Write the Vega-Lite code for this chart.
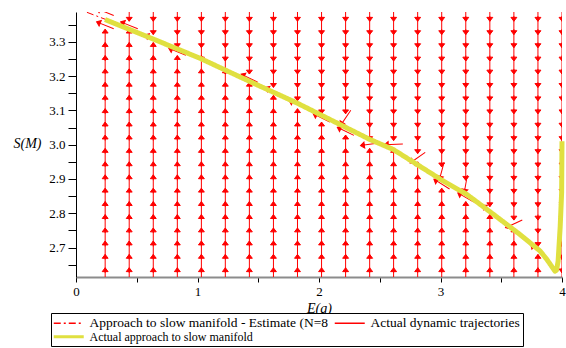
{
"$schema": "https://vega.github.io/schema/vega-lite/v6.json",
"width": 486,
"height": 265,
"autosize": {"type": "none"},
"padding": {"left": 76, "top": 12, "right": 4, "bottom": 71},
"background": "white",
"config": {"view": {"stroke": null}, "legend": {"labelFont": "Liberation Serif"}},
"datasets": {
"field": [
{"E":0.24,"S":3.387,"a":292},{"E":0.24,"S":3.348,"a":292},{"E":0.24,"S":3.31,"a":0},{"E":0.24,"S":3.271,"a":0},{"E":0.24,"S":3.233,"a":0},{"E":0.24,"S":3.194,"a":0},{"E":0.24,"S":3.155,"a":0},{"E":0.24,"S":3.117,"a":0},{"E":0.24,"S":3.078,"a":0},{"E":0.24,"S":3.039,"a":0},{"E":0.24,"S":3.001,"a":0},{"E":0.24,"S":2.962,"a":0},{"E":0.24,"S":2.923,"a":0},{"E":0.24,"S":2.885,"a":0},{"E":0.24,"S":2.846,"a":0},{"E":0.24,"S":2.807,"a":0},{"E":0.24,"S":2.769,"a":0},{"E":0.24,"S":2.73,"a":0},{"E":0.24,"S":2.692,"a":0},{"E":0.24,"S":2.653,"a":0},{"E":0.24,"S":2.614,"a":0},
{"E":0.438,"S":3.387,"a":180},{"E":0.438,"S":3.348,"a":292},{"E":0.438,"S":3.31,"a":0},{"E":0.438,"S":3.271,"a":0},{"E":0.438,"S":3.233,"a":0},{"E":0.438,"S":3.194,"a":0},{"E":0.438,"S":3.155,"a":0},{"E":0.438,"S":3.117,"a":0},{"E":0.438,"S":3.078,"a":0},{"E":0.438,"S":3.039,"a":0},{"E":0.438,"S":3.001,"a":0},{"E":0.438,"S":2.962,"a":0},{"E":0.438,"S":2.923,"a":0},{"E":0.438,"S":2.885,"a":0},{"E":0.438,"S":2.846,"a":0},{"E":0.438,"S":2.807,"a":0},{"E":0.438,"S":2.769,"a":0},{"E":0.438,"S":2.73,"a":0},{"E":0.438,"S":2.692,"a":0},{"E":0.438,"S":2.653,"a":0},{"E":0.438,"S":2.614,"a":0},
{"E":0.636,"S":3.387,"a":180},{"E":0.636,"S":3.348,"a":180},{"E":0.636,"S":3.31,"a":292},{"E":0.636,"S":3.271,"a":0},{"E":0.636,"S":3.233,"a":0},{"E":0.636,"S":3.194,"a":0},{"E":0.636,"S":3.155,"a":0},{"E":0.636,"S":3.117,"a":0},{"E":0.636,"S":3.078,"a":0},{"E":0.636,"S":3.039,"a":0},{"E":0.636,"S":3.001,"a":0},{"E":0.636,"S":2.962,"a":0},{"E":0.636,"S":2.923,"a":0},{"E":0.636,"S":2.885,"a":0},{"E":0.636,"S":2.846,"a":0},{"E":0.636,"S":2.807,"a":0},{"E":0.636,"S":2.769,"a":0},{"E":0.636,"S":2.73,"a":0},{"E":0.636,"S":2.692,"a":0},{"E":0.636,"S":2.653,"a":0},{"E":0.636,"S":2.614,"a":0},
{"E":0.834,"S":3.387,"a":180},{"E":0.834,"S":3.348,"a":180},{"E":0.834,"S":3.31,"a":180},{"E":0.834,"S":3.271,"a":292},{"E":0.834,"S":3.233,"a":0},{"E":0.834,"S":3.194,"a":0},{"E":0.834,"S":3.155,"a":0},{"E":0.834,"S":3.117,"a":0},{"E":0.834,"S":3.078,"a":0},{"E":0.834,"S":3.039,"a":0},{"E":0.834,"S":3.001,"a":0},{"E":0.834,"S":2.962,"a":0},{"E":0.834,"S":2.923,"a":0},{"E":0.834,"S":2.885,"a":0},{"E":0.834,"S":2.846,"a":0},{"E":0.834,"S":2.807,"a":0},{"E":0.834,"S":2.769,"a":0},{"E":0.834,"S":2.73,"a":0},{"E":0.834,"S":2.692,"a":0},{"E":0.834,"S":2.653,"a":0},{"E":0.834,"S":2.614,"a":0},
{"E":1.032,"S":3.387,"a":180},{"E":1.032,"S":3.348,"a":180},{"E":1.032,"S":3.31,"a":180},{"E":1.032,"S":3.271,"a":180},{"E":1.032,"S":3.233,"a":0},{"E":1.032,"S":3.194,"a":0},{"E":1.032,"S":3.155,"a":0},{"E":1.032,"S":3.117,"a":0},{"E":1.032,"S":3.078,"a":0},{"E":1.032,"S":3.039,"a":0},{"E":1.032,"S":3.001,"a":0},{"E":1.032,"S":2.962,"a":0},{"E":1.032,"S":2.923,"a":0},{"E":1.032,"S":2.885,"a":0},{"E":1.032,"S":2.846,"a":0},{"E":1.032,"S":2.807,"a":0},{"E":1.032,"S":2.769,"a":0},{"E":1.032,"S":2.73,"a":0},{"E":1.032,"S":2.692,"a":0},{"E":1.032,"S":2.653,"a":0},{"E":1.032,"S":2.614,"a":0},
{"E":1.229,"S":3.387,"a":180},{"E":1.229,"S":3.348,"a":180},{"E":1.229,"S":3.31,"a":180},{"E":1.229,"S":3.271,"a":180},{"E":1.229,"S":3.233,"a":180},{"E":1.229,"S":3.194,"a":0},{"E":1.229,"S":3.155,"a":0},{"E":1.229,"S":3.117,"a":0},{"E":1.229,"S":3.078,"a":0},{"E":1.229,"S":3.039,"a":0},{"E":1.229,"S":3.001,"a":0},{"E":1.229,"S":2.962,"a":0},{"E":1.229,"S":2.923,"a":0},{"E":1.229,"S":2.885,"a":0},{"E":1.229,"S":2.846,"a":0},{"E":1.229,"S":2.807,"a":0},{"E":1.229,"S":2.769,"a":0},{"E":1.229,"S":2.73,"a":0},{"E":1.229,"S":2.692,"a":0},{"E":1.229,"S":2.653,"a":0},{"E":1.229,"S":2.614,"a":0},
{"E":1.427,"S":3.387,"a":180},{"E":1.427,"S":3.348,"a":180},{"E":1.427,"S":3.31,"a":180},{"E":1.427,"S":3.271,"a":180},{"E":1.427,"S":3.233,"a":180},{"E":1.427,"S":3.194,"a":296},{"E":1.427,"S":3.155,"a":0},{"E":1.427,"S":3.117,"a":0},{"E":1.427,"S":3.078,"a":0},{"E":1.427,"S":3.039,"a":0},{"E":1.427,"S":3.001,"a":0},{"E":1.427,"S":2.962,"a":0},{"E":1.427,"S":2.923,"a":0},{"E":1.427,"S":2.885,"a":0},{"E":1.427,"S":2.846,"a":0},{"E":1.427,"S":2.807,"a":0},{"E":1.427,"S":2.769,"a":0},{"E":1.427,"S":2.73,"a":0},{"E":1.427,"S":2.692,"a":0},{"E":1.427,"S":2.653,"a":0},{"E":1.427,"S":2.614,"a":0},
{"E":1.625,"S":3.387,"a":180},{"E":1.625,"S":3.348,"a":180},{"E":1.625,"S":3.31,"a":180},{"E":1.625,"S":3.271,"a":180},{"E":1.625,"S":3.233,"a":180},{"E":1.625,"S":3.194,"a":180},{"E":1.625,"S":3.155,"a":296},{"E":1.625,"S":3.117,"a":0},{"E":1.625,"S":3.078,"a":0},{"E":1.625,"S":3.039,"a":0},{"E":1.625,"S":3.001,"a":0},{"E":1.625,"S":2.962,"a":0},{"E":1.625,"S":2.923,"a":0},{"E":1.625,"S":2.885,"a":0},{"E":1.625,"S":2.846,"a":0},{"E":1.625,"S":2.807,"a":0},{"E":1.625,"S":2.769,"a":0},{"E":1.625,"S":2.73,"a":0},{"E":1.625,"S":2.692,"a":0},{"E":1.625,"S":2.653,"a":0},{"E":1.625,"S":2.614,"a":0},
{"E":1.823,"S":3.387,"a":180},{"E":1.823,"S":3.348,"a":180},{"E":1.823,"S":3.31,"a":180},{"E":1.823,"S":3.271,"a":180},{"E":1.823,"S":3.233,"a":180},{"E":1.823,"S":3.194,"a":180},{"E":1.823,"S":3.155,"a":180},{"E":1.823,"S":3.117,"a":296},{"E":1.823,"S":3.078,"a":0},{"E":1.823,"S":3.039,"a":0},{"E":1.823,"S":3.001,"a":0},{"E":1.823,"S":2.962,"a":0},{"E":1.823,"S":2.923,"a":0},{"E":1.823,"S":2.885,"a":0},{"E":1.823,"S":2.846,"a":0},{"E":1.823,"S":2.807,"a":0},{"E":1.823,"S":2.769,"a":0},{"E":1.823,"S":2.73,"a":0},{"E":1.823,"S":2.692,"a":0},{"E":1.823,"S":2.653,"a":0},{"E":1.823,"S":2.614,"a":0},
{"E":2.021,"S":3.387,"a":180},{"E":2.021,"S":3.348,"a":180},{"E":2.021,"S":3.31,"a":180},{"E":2.021,"S":3.271,"a":180},{"E":2.021,"S":3.233,"a":180},{"E":2.021,"S":3.194,"a":180},{"E":2.021,"S":3.155,"a":180},{"E":2.021,"S":3.117,"a":180},{"E":2.021,"S":3.078,"a":296},{"E":2.021,"S":3.039,"a":0},{"E":2.021,"S":3.001,"a":0},{"E":2.021,"S":2.962,"a":0},{"E":2.021,"S":2.923,"a":0},{"E":2.021,"S":2.885,"a":0},{"E":2.021,"S":2.846,"a":0},{"E":2.021,"S":2.807,"a":0},{"E":2.021,"S":2.769,"a":0},{"E":2.021,"S":2.73,"a":0},{"E":2.021,"S":2.692,"a":0},{"E":2.021,"S":2.653,"a":0},{"E":2.021,"S":2.614,"a":0},
{"E":2.219,"S":3.387,"a":180},{"E":2.219,"S":3.348,"a":180},{"E":2.219,"S":3.31,"a":180},{"E":2.219,"S":3.271,"a":180},{"E":2.219,"S":3.233,"a":180},{"E":2.219,"S":3.194,"a":180},{"E":2.219,"S":3.155,"a":180},{"E":2.219,"S":3.117,"a":180},{"E":2.219,"S":3.078,"a":214},{"E":2.219,"S":3.039,"a":296},{"E":2.219,"S":3.001,"a":0},{"E":2.219,"S":2.962,"a":0},{"E":2.219,"S":2.923,"a":0},{"E":2.219,"S":2.885,"a":0},{"E":2.219,"S":2.846,"a":0},{"E":2.219,"S":2.807,"a":0},{"E":2.219,"S":2.769,"a":0},{"E":2.219,"S":2.73,"a":0},{"E":2.219,"S":2.692,"a":0},{"E":2.219,"S":2.653,"a":0},{"E":2.219,"S":2.614,"a":0},
{"E":2.417,"S":3.387,"a":180},{"E":2.417,"S":3.348,"a":180},{"E":2.417,"S":3.31,"a":180},{"E":2.417,"S":3.271,"a":180},{"E":2.417,"S":3.233,"a":180},{"E":2.417,"S":3.194,"a":180},{"E":2.417,"S":3.155,"a":180},{"E":2.417,"S":3.117,"a":180},{"E":2.417,"S":3.078,"a":180},{"E":2.417,"S":3.039,"a":180},{"E":2.417,"S":3.001,"a":262},{"E":2.417,"S":2.962,"a":0},{"E":2.417,"S":2.923,"a":0},{"E":2.417,"S":2.885,"a":0},{"E":2.417,"S":2.846,"a":0},{"E":2.417,"S":2.807,"a":0},{"E":2.417,"S":2.769,"a":0},{"E":2.417,"S":2.73,"a":0},{"E":2.417,"S":2.692,"a":0},{"E":2.417,"S":2.653,"a":0},{"E":2.417,"S":2.614,"a":0},
{"E":2.614,"S":3.387,"a":180},{"E":2.614,"S":3.348,"a":180},{"E":2.614,"S":3.31,"a":180},{"E":2.614,"S":3.271,"a":180},{"E":2.614,"S":3.233,"a":180},{"E":2.614,"S":3.194,"a":180},{"E":2.614,"S":3.155,"a":180},{"E":2.614,"S":3.117,"a":180},{"E":2.614,"S":3.078,"a":180},{"E":2.614,"S":3.039,"a":180},{"E":2.614,"S":3.001,"a":268},{"E":2.614,"S":2.962,"a":0},{"E":2.614,"S":2.923,"a":0},{"E":2.614,"S":2.885,"a":0},{"E":2.614,"S":2.846,"a":0},{"E":2.614,"S":2.807,"a":0},{"E":2.614,"S":2.769,"a":0},{"E":2.614,"S":2.73,"a":0},{"E":2.614,"S":2.692,"a":0},{"E":2.614,"S":2.653,"a":0},{"E":2.614,"S":2.614,"a":0},
{"E":2.812,"S":3.387,"a":180},{"E":2.812,"S":3.348,"a":180},{"E":2.812,"S":3.31,"a":180},{"E":2.812,"S":3.271,"a":180},{"E":2.812,"S":3.233,"a":180},{"E":2.812,"S":3.194,"a":180},{"E":2.812,"S":3.155,"a":180},{"E":2.812,"S":3.117,"a":180},{"E":2.812,"S":3.078,"a":180},{"E":2.812,"S":3.039,"a":180},{"E":2.812,"S":3.001,"a":180},{"E":2.812,"S":2.962,"a":235},{"E":2.812,"S":2.923,"a":0},{"E":2.812,"S":2.885,"a":0},{"E":2.812,"S":2.846,"a":0},{"E":2.812,"S":2.807,"a":0},{"E":2.812,"S":2.769,"a":0},{"E":2.812,"S":2.73,"a":0},{"E":2.812,"S":2.692,"a":0},{"E":2.812,"S":2.653,"a":0},{"E":2.812,"S":2.614,"a":0},
{"E":3.01,"S":3.387,"a":180},{"E":3.01,"S":3.348,"a":180},{"E":3.01,"S":3.31,"a":180},{"E":3.01,"S":3.271,"a":180},{"E":3.01,"S":3.233,"a":180},{"E":3.01,"S":3.194,"a":180},{"E":3.01,"S":3.155,"a":180},{"E":3.01,"S":3.117,"a":180},{"E":3.01,"S":3.078,"a":180},{"E":3.01,"S":3.039,"a":180},{"E":3.01,"S":3.001,"a":180},{"E":3.01,"S":2.962,"a":180},{"E":3.01,"S":2.923,"a":195},{"E":3.01,"S":2.885,"a":302},{"E":3.01,"S":2.846,"a":0},{"E":3.01,"S":2.807,"a":0},{"E":3.01,"S":2.769,"a":0},{"E":3.01,"S":2.73,"a":0},{"E":3.01,"S":2.692,"a":0},{"E":3.01,"S":2.653,"a":0},{"E":3.01,"S":2.614,"a":0},
{"E":3.208,"S":3.387,"a":180},{"E":3.208,"S":3.348,"a":180},{"E":3.208,"S":3.31,"a":180},{"E":3.208,"S":3.271,"a":180},{"E":3.208,"S":3.233,"a":180},{"E":3.208,"S":3.194,"a":180},{"E":3.208,"S":3.155,"a":180},{"E":3.208,"S":3.117,"a":180},{"E":3.208,"S":3.078,"a":180},{"E":3.208,"S":3.039,"a":180},{"E":3.208,"S":3.001,"a":180},{"E":3.208,"S":2.962,"a":180},{"E":3.208,"S":2.923,"a":180},{"E":3.208,"S":2.885,"a":190},{"E":3.208,"S":2.846,"a":300},{"E":3.208,"S":2.807,"a":0},{"E":3.208,"S":2.769,"a":0},{"E":3.208,"S":2.73,"a":0},{"E":3.208,"S":2.692,"a":0},{"E":3.208,"S":2.653,"a":0},{"E":3.208,"S":2.614,"a":0},
{"E":3.406,"S":3.387,"a":180},{"E":3.406,"S":3.348,"a":180},{"E":3.406,"S":3.31,"a":180},{"E":3.406,"S":3.271,"a":180},{"E":3.406,"S":3.233,"a":180},{"E":3.406,"S":3.194,"a":180},{"E":3.406,"S":3.155,"a":180},{"E":3.406,"S":3.117,"a":180},{"E":3.406,"S":3.078,"a":180},{"E":3.406,"S":3.039,"a":180},{"E":3.406,"S":3.001,"a":180},{"E":3.406,"S":2.962,"a":180},{"E":3.406,"S":2.923,"a":180},{"E":3.406,"S":2.885,"a":180},{"E":3.406,"S":2.846,"a":180},{"E":3.406,"S":2.807,"a":307},{"E":3.406,"S":2.769,"a":0},{"E":3.406,"S":2.73,"a":0},{"E":3.406,"S":2.692,"a":0},{"E":3.406,"S":2.653,"a":0},{"E":3.406,"S":2.614,"a":0},
{"E":3.604,"S":3.387,"a":180},{"E":3.604,"S":3.348,"a":180},{"E":3.604,"S":3.31,"a":180},{"E":3.604,"S":3.271,"a":180},{"E":3.604,"S":3.233,"a":180},{"E":3.604,"S":3.194,"a":180},{"E":3.604,"S":3.155,"a":180},{"E":3.604,"S":3.117,"a":180},{"E":3.604,"S":3.078,"a":180},{"E":3.604,"S":3.039,"a":180},{"E":3.604,"S":3.001,"a":180},{"E":3.604,"S":2.962,"a":180},{"E":3.604,"S":2.923,"a":180},{"E":3.604,"S":2.885,"a":180},{"E":3.604,"S":2.846,"a":180},{"E":3.604,"S":2.807,"a":180},{"E":3.604,"S":2.769,"a":245},{"E":3.604,"S":2.73,"a":0},{"E":3.604,"S":2.692,"a":0},{"E":3.604,"S":2.653,"a":0},{"E":3.604,"S":2.614,"a":0},
{"E":3.802,"S":3.387,"a":180},{"E":3.802,"S":3.348,"a":180},{"E":3.802,"S":3.31,"a":180},{"E":3.802,"S":3.271,"a":180},{"E":3.802,"S":3.233,"a":180},{"E":3.802,"S":3.194,"a":180},{"E":3.802,"S":3.155,"a":180},{"E":3.802,"S":3.117,"a":180},{"E":3.802,"S":3.078,"a":180},{"E":3.802,"S":3.039,"a":180},{"E":3.802,"S":3.001,"a":180},{"E":3.802,"S":2.962,"a":180},{"E":3.802,"S":2.923,"a":180},{"E":3.802,"S":2.885,"a":180},{"E":3.802,"S":2.846,"a":180},{"E":3.802,"S":2.807,"a":180},{"E":3.802,"S":2.769,"a":180},{"E":3.802,"S":2.73,"a":180},{"E":3.802,"S":2.692,"a":309},{"E":3.802,"S":2.653,"a":0},{"E":3.802,"S":2.614,"a":0},
{"E":4.0,"S":3.387,"a":180},{"E":4.0,"S":3.348,"a":180},{"E":4.0,"S":3.31,"a":180},{"E":4.0,"S":3.271,"a":180},{"E":4.0,"S":3.233,"a":180},{"E":4.0,"S":3.194,"a":180},{"E":4.0,"S":3.155,"a":180},{"E":4.0,"S":3.117,"a":180},{"E":4.0,"S":3.078,"a":180},{"E":4.0,"S":3.039,"a":180},{"E":4.0,"S":3.001,"a":180},{"E":4.0,"S":2.962,"a":180},{"E":4.0,"S":2.923,"a":180},{"E":4.0,"S":2.885,"a":180},{"E":4.0,"S":2.846,"a":180},{"E":4.0,"S":2.807,"a":180},{"E":4.0,"S":2.769,"a":180},{"E":4.0,"S":2.73,"a":180},{"E":4.0,"S":2.692,"a":180},{"E":4.0,"S":2.653,"a":180},{"E":4.0,"S":2.614,"a":180}
],
"est": [
{"series":"Approach to slow manifold - Estimate (N=8","o":1,"E":0.09,"S":3.386},
{"series":"Approach to slow manifold - Estimate (N=8","o":2,"E":0.239,"S":3.366},
{"series":"Approach to slow manifold - Estimate (N=8","o":3,"E":0.609,"S":3.313},
{"series":"Approach to slow manifold - Estimate (N=8","o":4,"E":1.021,"S":3.254},
{"series":"Approach to slow manifold - Estimate (N=8","o":5,"E":1.432,"S":3.186},
{"series":"Approach to slow manifold - Estimate (N=8","o":6,"E":2.008,"S":3.09},
{"series":"Approach to slow manifold - Estimate (N=8","o":7,"E":2.611,"S":2.988},
{"series":"Approach to slow manifold - Estimate (N=8","o":8,"E":3.023,"S":2.897},
{"series":"Approach to slow manifold - Estimate (N=8","o":9,"E":3.435,"S":2.8},
{"series":"Approach to slow manifold - Estimate (N=8","o":10,"E":3.654,"S":2.742},
{"series":"Approach to slow manifold - Estimate (N=8","o":11,"E":3.819,"S":2.694},
{"series":"Approach to slow manifold - Estimate (N=8","o":12,"E":3.93,"S":2.645}
],
"yel": [
{"series":"Actual approach to slow manifold","o":1,"E":4.0,"S":3.01},
{"series":"Actual approach to slow manifold","o":2,"E":3.997,"S":2.86},
{"series":"Actual approach to slow manifold","o":3,"E":3.985,"S":2.76},
{"series":"Actual approach to slow manifold","o":4,"E":3.968,"S":2.66},
{"series":"Actual approach to slow manifold","o":5,"E":3.955,"S":2.634},
{"series":"Actual approach to slow manifold","o":6,"E":3.942,"S":2.631},
{"series":"Actual approach to slow manifold","o":7,"E":3.915,"S":2.645},
{"series":"Actual approach to slow manifold","o":8,"E":3.874,"S":2.666},
{"series":"Actual approach to slow manifold","o":9,"E":3.819,"S":2.69},
{"series":"Actual approach to slow manifold","o":10,"E":3.654,"S":2.738},
{"series":"Actual approach to slow manifold","o":11,"E":3.435,"S":2.797},
{"series":"Actual approach to slow manifold","o":12,"E":3.216,"S":2.855},
{"series":"Actual approach to slow manifold","o":13,"E":3.023,"S":2.894},
{"series":"Actual approach to slow manifold","o":14,"E":2.611,"S":2.986},
{"series":"Actual approach to slow manifold","o":15,"E":2.42,"S":3.015},
{"series":"Actual approach to slow manifold","o":16,"E":2.2,"S":3.054},
{"series":"Actual approach to slow manifold","o":17,"E":2.008,"S":3.088},
{"series":"Actual approach to slow manifold","o":18,"E":1.816,"S":3.122},
{"series":"Actual approach to slow manifold","o":19,"E":1.432,"S":3.184},
{"series":"Actual approach to slow manifold","o":20,"E":1.021,"S":3.252},
{"series":"Actual approach to slow manifold","o":21,"E":0.609,"S":3.312},
{"series":"Actual approach to slow manifold","o":22,"E":0.239,"S":3.365}
]
},
"encoding": {
"x": {"field": "E", "type": "quantitative", "scale": {"domain": [0, 4], "nice": false, "zero": false},
 "axis": {"title": "E(g)", "values": [0,0.5,1,1.5,2,2.5,3,3.5,4], "labelExpr": "datum.value % 1 === 0 ? format(datum.value, 'd') : ''",
  "tickSize": 5, "tickWidth": 1, "tickColor": "black", "domainColor": "#8c8c8c", "domainWidth": 2, "grid": false, "labelFlush": false, "labelOverlap": false,
  "labelFont": "Liberation Serif", "labelFontSize": 13, "labelColor": "black", "labelPadding": 3,
  "titleFont": "Liberation Serif", "titleFontSize": 14, "titleFontStyle": "italic", "titleFontWeight": "normal", "titleColor": "black", "titleY": 31, "titleBaseline": "middle"}},
"y": {"field": "S", "type": "quantitative", "scale": {"domain": [2.614, 3.387], "nice": false, "zero": false},
 "axis": {"title": "S(M)", "values": [2.65,2.7,2.75,2.8,2.85,2.9,2.95,3.0,3.05,3.1,3.15,3.2,3.25,3.3,3.35],
  "labelExpr": "round(datum.value*100) % 10 === 0 ? format(datum.value, '.1f') : ''",
  "tickSize": 8,
  "encode": {"ticks": {"update": {"x2": {"signal": "round(datum.value*100) % 10 === 0 ? -8 : -4"}}}},
  "tickColor": "black", "domainColor": "black", "domainWidth": 1, "grid": false, "labelFlush": false, "labelOverlap": false,
  "labelFont": "Liberation Serif", "labelFontSize": 13, "labelColor": "black", "labelPadding": 3,
  "titleFont": "Liberation Serif", "titleFontSize": 14, "titleFontStyle": "italic", "titleFontWeight": "normal", "titleColor": "black",
  "titleAngle": 0, "titleX": -63, "titleY": 131, "titleAlign": "left", "titleBaseline": "middle"}}
},
"layer": [
{"data": {"name": "field"},
 "mark": {"type": "point", "shape": "M0,1L0,-1M-0.32,-0.58L0,-1L0.32,-0.58Z", "size": 342, "filled": true, "fill": "#ff0000", "stroke": "#ff0000", "strokeWidth": 1, "opacity": 1, "clip": true},
 "encoding": {"angle": {"field": "a", "type": "quantitative", "scale": null}}},
{"data": {"name": "est"},
 "mark": {"type": "line", "strokeWidth": 1},
 "encoding": {
  "order": {"field": "o", "type": "quantitative"},
  "color": {"field": "series", "type": "nominal",
   "scale": {"domain": ["Approach to slow manifold - Estimate (N=8", "Actual dynamic trajectories", "Actual approach to slow manifold"], "range": ["#ff0000", "#ff0000", "#e0e040"]},
   "legend": {"title": null, "orient": "none", "legendX": -25, "legendY": 301, "columns": 2, "direction": "horizontal",
    "symbolType": "M-2.5,0H2.5", "symbolSize": 144, "symbolStrokeWidth": 1.5, "symbolOffset": 8, "labelOffset": 14,
    "labelFont": "Liberation Serif", "labelFontSize": 14, "labelLimit": 400, "labelColor": "black",
    "strokeColor": "black", "fillColor": "white", "padding": 3, "rowPadding": 0, "columnPadding": 2,
    "encode": {"symbols": {"update": {"strokeWidth": {"signal": "datum.value === 'Actual approach to slow manifold' ? 3 : 1.5"}}},
               "labels": {"update": {"font": {"value": "Liberation Serif"}, "fontSize": {"signal": "datum.value === 'Actual approach to slow manifold' ? 12 : 13.5"}}}}}},
  "strokeDash": {"field": "series", "type": "nominal",
   "scale": {"domain": ["Approach to slow manifold - Estimate (N=8", "Actual dynamic trajectories", "Actual approach to slow manifold"], "range": [[7,3,2,3],[1,0],[1,0]]},
   "legend": {"title": null, "orient": "none", "legendX": -25, "legendY": 301, "columns": 2, "direction": "horizontal",
    "symbolType": "M-2.5,0H2.5", "symbolSize": 144, "symbolStrokeWidth": 1.5, "symbolOffset": 8, "labelOffset": 14,
    "labelFont": "Liberation Serif", "labelFontSize": 14, "labelLimit": 400, "labelColor": "black",
    "strokeColor": "black", "fillColor": "white", "padding": 3, "rowPadding": 0, "columnPadding": 2,
    "encode": {"symbols": {"update": {"strokeWidth": {"signal": "datum.value === 'Actual approach to slow manifold' ? 3 : 1.5"}}},
               "labels": {"update": {"font": {"value": "Liberation Serif"}, "fontSize": {"signal": "datum.value === 'Actual approach to slow manifold' ? 12 : 13.5"}}}}}}
 }},
{"data": {"name": "yel"},
 "mark": {"type": "line", "strokeWidth": 5, "strokeJoin": "round"},
 "encoding": {
  "order": {"field": "o", "type": "quantitative"},
  "color": {"field": "series", "type": "nominal"},
  "strokeDash": {"field": "series", "type": "nominal"}
 }}
]
}
